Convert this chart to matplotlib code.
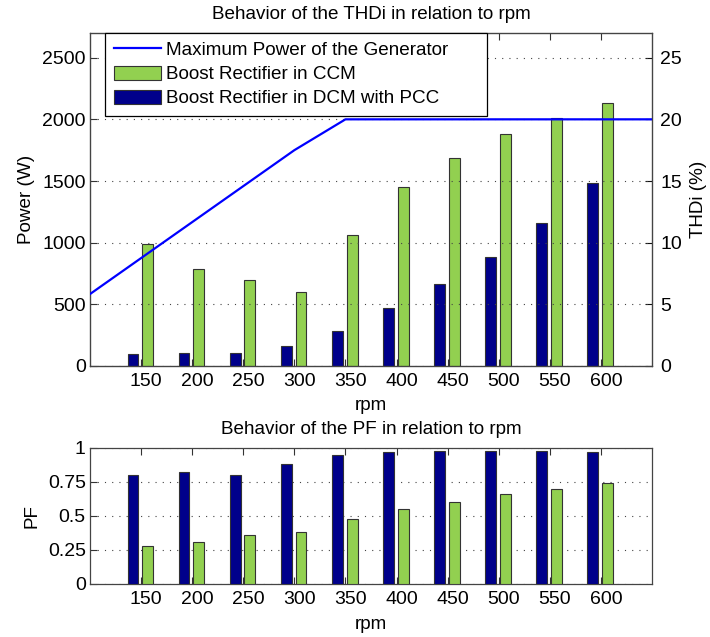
import numpy as np
import matplotlib
matplotlib.use("Agg")
import matplotlib.pyplot as plt
from matplotlib.patches import Patch
from matplotlib.lines import Line2D
from matplotlib.transforms import ScaledTranslation

plt.rcParams["font.family"] = ["Liberation Sans", "DejaVu Sans"]
plt.rcParams["font.size"] = 13.6

# dados
rpm = [150, 200, 250, 300, 350, 400, 450, 500, 550, 600]
thd_ccm = [9.9, 7.9, 7.0, 6.0, 10.6, 14.5, 16.9, 18.8, 20.1, 21.3]
thd_dcm = [0.95, 1.05, 1.05, 1.64, 2.85, 4.74, 6.63, 8.84, 11.56, 14.8]
pf_ccm = [0.28, 0.31, 0.36, 0.38, 0.48, 0.55, 0.60, 0.66, 0.70, 0.74]
pf_dcm = [0.80, 0.82, 0.80, 0.88, 0.95, 0.97, 0.98, 0.98, 0.98, 0.97]
gen_rpm = [0, 300, 350, 650]
gen_power = [0, 1750, 2000, 2000]

GREEN = "#92d050"
NAVY = "#00008b"
EDGE = "#333333"
SPINE = "#444444"
FS = 13.6

x = np.array(rpm, dtype=float)
off_dcm, off_ccm, w = -8.0, 6.5, 10.6


def style_axes(ax):
    for s in ax.spines.values():
        s.set_color(SPINE)
        s.set_linewidth(0.9)
    ax.tick_params(direction="in", length=5, width=0.8, color="#333333",
                   top=True, bottom=True, labelsize=FS + 0.4)
    ax.tick_params(axis="x", pad=5)
    ax.tick_params(axis="y", pad=3)
    ax.yaxis.grid(True, linestyle=(0, (1, 5.5)), color="#444444", linewidth=0.8)
    ax.set_axisbelow(True)
    ax.set_xlim(100, 650)
    ax.set_xticks(rpm)
    ax.set_xticklabels([str(r) for r in rpm])
    # rótulos ligeiramente deslocados para a direita, como no original
    shift = ScaledTranslation(5 / 100, 0, ax.figure.dpi_scale_trans)
    for lab in ax.get_xticklabels():
        lab.set_transform(lab.get_transform() + shift)


fig = plt.figure(figsize=(7.10, 6.37), dpi=100)

# --- gráfico de cima: potência e THDi ---
ax1 = fig.add_axes([90 / 710, 1 - 366 / 637, 562 / 710, 333 / 637])
style_axes(ax1)
ax1.set_ylim(0, 2700)
ax1.set_yticks([0, 500, 1000, 1500, 2000, 2500])
ax1.plot(gen_rpm, gen_power, color="#0000ff", linewidth=1.6, zorder=4)
ax1.set_ylabel("Power (W)", fontsize=FS, labelpad=5)
ax1.set_xlabel("rpm", fontsize=FS, labelpad=5)
ax1.set_title("Behavior of the THDi in relation to rpm", fontsize=FS, pad=10)

ax2 = ax1.twinx()
ax2.set_ylim(0, 27)
ax2.set_yticks([0, 5, 10, 15, 20, 25])
ax2.bar(x + off_dcm, thd_dcm, width=w, color=NAVY, edgecolor=EDGE, linewidth=0.8, zorder=3)
ax2.bar(x + off_ccm, thd_ccm, width=w, color=GREEN, edgecolor=EDGE, linewidth=0.8, zorder=3)
ax2.tick_params(direction="in", length=5, width=0.8, color="#111111", labelsize=FS + 0.4, pad=6)
ax2.spines["right"].set_color("black")
ax2.set_ylabel("THDi (%)", fontsize=FS, labelpad=6)
ax1.set_zorder(ax2.get_zorder() + 1)
ax1.patch.set_visible(False)

handles = [
    Line2D([], [], color="#0000ff", linewidth=1.6),
    Patch(facecolor=GREEN, edgecolor=EDGE, linewidth=0.8),
    Patch(facecolor=NAVY, edgecolor=EDGE, linewidth=0.8),
]
labels = ["Maximum Power of the Generator", "Boost Rectifier in CCM",
          "Boost Rectifier in DCM with PCC"]
leg = ax1.legend(handles, labels, loc="upper left",
                 bbox_to_anchor=(15 / 562, 0.0, 382 / 562, 1.0), mode="expand",
                 fontsize=FS, frameon=True, fancybox=False, framealpha=1,
                 edgecolor="black", handlelength=2.5, handleheight=0.8,
                 handletextpad=0.3, labelspacing=0.33, borderpad=0.45,
                 borderaxespad=0)
leg.get_frame().set_linewidth(0.9)
leg.set_zorder(10)

# --- gráfico de baixo: fator de potência ---
ax3 = fig.add_axes([90 / 710, 1 - 584 / 637, 562 / 710, 136 / 637])
style_axes(ax3)
ax3.set_ylim(0, 1)
ax3.set_yticks([0, 0.25, 0.5, 0.75, 1])
ax3.set_yticklabels(["0", "0.25", "0.5", "0.75", "1"])
ax3.bar(x + off_dcm, pf_dcm, width=w, color=NAVY, edgecolor=EDGE, linewidth=0.8, zorder=3)
ax3.bar(x + off_ccm, pf_ccm, width=w, color=GREEN, edgecolor=EDGE, linewidth=0.8, zorder=3)
ax3.set_ylabel("PF", fontsize=FS, labelpad=5)
ax3.set_xlabel("rpm", fontsize=FS, labelpad=6)
ax3.set_title("Behavior of the PF in relation to rpm", fontsize=FS, pad=10)

fig.savefig("out.png", dpi=100)
plt.close(fig)
